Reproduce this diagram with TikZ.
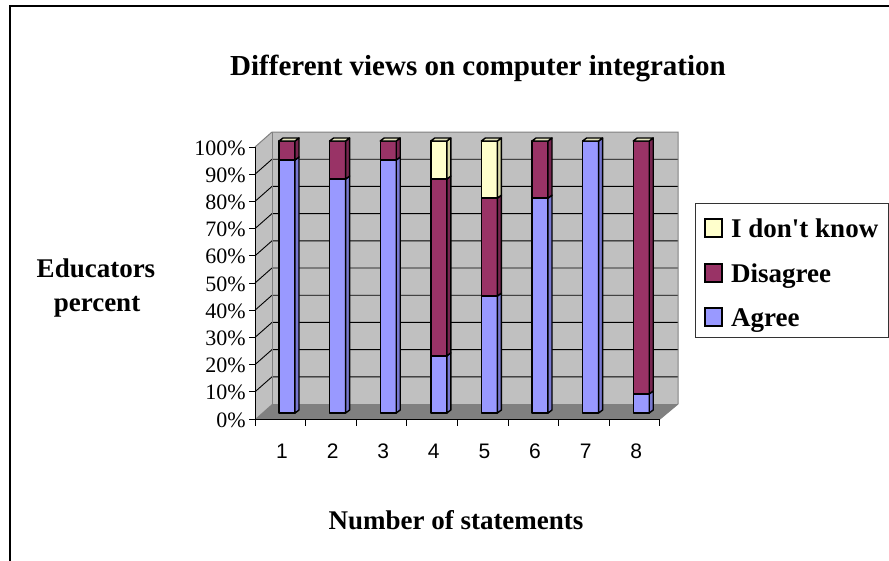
\documentclass[tikz,border=0pt]{standalone}
\usepackage{fontspec}
\setmainfont{Liberation Serif}
\newfontfamily\sansf{Liberation Sans}
\definecolor{agree}{HTML}{9999FF}
\definecolor{agreeside}{HTML}{7878D0}
\definecolor{disagree}{HTML}{993366}
\definecolor{disagreeside}{HTML}{772650}
\definecolor{idk}{HTML}{FFFFCC}
\definecolor{idkside}{HTML}{DADAA8}
\definecolor{topface}{HTML}{E2E2BC}
\definecolor{wall}{HTML}{C0C0C0}
\definecolor{floorc}{HTML}{808080}
\newcommand\myseg[5]{%
  \pgfmathsetmacro\xa{279+50.6*(#1-1)}%
  \pgfmathsetmacro\ya{413-2.72*#2}%
  \pgfmathsetmacro\yb{413-2.72*#3}%
  \filldraw[fill=#4,barline] (\xa,\ya) rectangle (\xa+16,\yb);
  \filldraw[fill=#5,barline] (\xa+16,\ya) -- (\xa+20,\ya-3) -- (\xa+20,\yb-3) -- (\xa+16,\yb) -- cycle;
}
\newcommand\mytop[2]{%
  \pgfmathsetmacro\xa{279+50.6*(#1-1)}%
  \pgfmathsetmacro\yt{413-2.72*#2}%
  \filldraw[fill=topface,barline] (\xa,\yt) -- (\xa+16,\yt) -- (\xa+20,\yt-3) -- (\xa+4,\yt-3) -- cycle;
}
\begin{document}
\begin{tikzpicture}[x=1pt,y=-1pt,
  barline/.style={draw=black,line width=1.4pt,line join=round},
  boldtxt/.style={font=\fontsize{27}{30}\selectfont\bfseries,inner sep=0pt},
  ytl/.style={font=\fontsize{22}{24}\selectfont,inner sep=0pt,anchor=east},
  xtl/.style={font=\sansf\fontsize{21}{24}\selectfont,inner sep=0pt,anchor=base},
  gridl/.style={draw=black,line width=0.9pt},
  legsq/.style={draw=black,line width=1.2pt}]
\useasboundingbox (0,0) rectangle (889,560);
\clip (0,0) rectangle (889,560);
\fill[white] (0,0) rectangle (889,560);
% outer frame
\draw[line width=2.8pt] (10,600) -- (10,6) -- (900,6);
% walls
\fill[wall] (255,147) -- (272,132) -- (272,404) -- (255,419) -- cycle;
\fill[wall] (272,132) rectangle (678,404);
\fill[floorc] (255,419) -- (272,404) -- (678,404) -- (660,419) -- cycle;
\foreach \k in {1,...,9}{
  \draw[gridl] (255,419-27.2*\k) -- (272,404-27.2*\k) -- (678,404-27.2*\k);
}
\draw[draw=floorc,line width=1pt] (255,147) -- (272,132) -- (678,132) -- (678,404) -- (660,419);
\draw[draw=floorc,line width=1pt] (272,132) -- (272,404) -- (678,404);
% axes
\draw[line width=1pt] (255,147) -- (255,419) -- (660,419);
\foreach \k in {0,...,10}{
  \draw[line width=1pt] (249,419-27.2*\k) -- (255,419-27.2*\k);
  \node[ytl] (yl\k) at (246,420-27.2*\k) {\the\numexpr\k*10\relax\%};
}
\foreach \k in {0,...,8}{
  \draw[line width=1pt] (255+50.6*\k,419) -- (255+50.6*\k,426);
}
\foreach \i in {1,...,8}{
  \node[xtl] (xl\i) at (282+50.6*\i-50.6,458) {\i};
}
% bars
\myseg{1}{0}{93}{agree}{agreeside}\myseg{1}{93}{100}{disagree}{disagreeside}\mytop{1}{100}
\myseg{2}{0}{86}{agree}{agreeside}\myseg{2}{86}{100}{disagree}{disagreeside}\mytop{2}{100}
\myseg{3}{0}{93}{agree}{agreeside}\myseg{3}{93}{100}{disagree}{disagreeside}\mytop{3}{100}
\myseg{4}{0}{21}{agree}{agreeside}\myseg{4}{21}{86}{disagree}{disagreeside}\myseg{4}{86}{100}{idk}{idkside}\mytop{4}{100}
\myseg{5}{0}{43}{agree}{agreeside}\myseg{5}{43}{79}{disagree}{disagreeside}\myseg{5}{79}{100}{idk}{idkside}\mytop{5}{100}
\myseg{6}{0}{79}{agree}{agreeside}\myseg{6}{79}{100}{disagree}{disagreeside}\mytop{6}{100}
\myseg{7}{0}{100}{agree}{agreeside}\mytop{7}{100}
\myseg{8}{0}{7}{agree}{agreeside}\myseg{8}{7}{100}{disagree}{disagreeside}\mytop{8}{100}
% titles
\node[boldtxt,anchor=base,font=\fontsize{29}{32}\selectfont\bfseries] (title) at (478,75) {Different views on computer integration};
\node[boldtxt,anchor=base] (ylab1) at (96,277) {Educators};
\node[boldtxt,anchor=base] (ylab2) at (97,311) {percent};
\node[boldtxt,anchor=base] (xlab) at (456,529) {Number of statements};
% legend
\draw[draw=black!80,line width=1pt,fill=white] (695,203) rectangle (888.5,337);
\draw[legsq,fill=idk] (705,219) rectangle (722,237);
\draw[legsq,fill=disagree] (705,264) rectangle (722,282);
\draw[legsq,fill=agree] (705,308) rectangle (722,326);
\node[boldtxt,anchor=base west] (lg1) at (731,237) {I don\textquotesingle t know};
\node[boldtxt,anchor=base west] (lg2) at (731,282) {Disagree};
\node[boldtxt,anchor=base west] (lg3) at (731,326) {Agree};
\end{tikzpicture}
\end{document}
